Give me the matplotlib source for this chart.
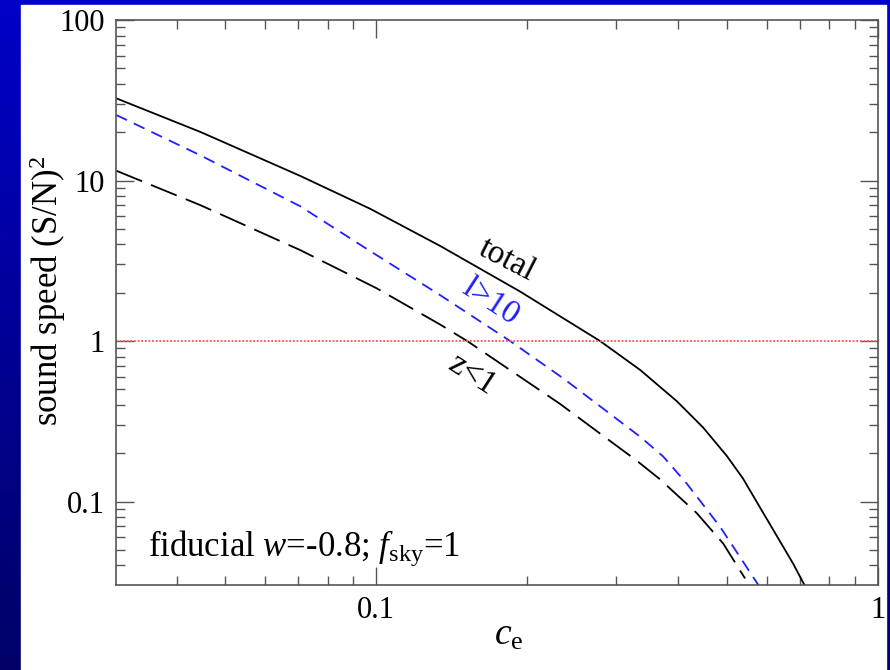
import numpy as np
import matplotlib
matplotlib.use("Agg")
import matplotlib.pyplot as plt
from matplotlib.patches import Rectangle
from matplotlib.ticker import LogLocator, NullFormatter, FixedLocator, FixedFormatter

matplotlib.rcParams['font.family'] = 'Liberation Serif'
matplotlib.rcParams['mathtext.fontset'] = 'custom'
matplotlib.rcParams['mathtext.rm'] = 'Liberation Serif'
matplotlib.rcParams['mathtext.it'] = 'Liberation Serif:italic'
matplotlib.rcParams['lines.scale_dashes'] = False

# ── data ──────────────────────────────────────────────────────
ce_total = [0.03034, 0.0446, 0.07058, 0.09729, 0.13408, 0.19353, 0.27934, 0.33574, 0.39774,
            0.44808, 0.50026, 0.53838, 0.582, 0.67712, 0.7153]
sn_total = [32.51, 20.09, 10.68, 6.664, 3.913, 2.034, 1.00, 0.6605, 0.4205,
            0.2895, 0.1915, 0.1389, 0.09177, 0.04115, 0.02975]

ce_l10 = [0.03034, 0.0446, 0.07058, 0.09729, 0.13408, 0.18487, 0.23604, 0.33574, 0.37291,
          0.41583, 0.48445, 0.57747]
sn_l10 = [25.59, 14.36, 6.907, 3.632, 1.932, 1.00, 0.5846, 0.2533, 0.1912,
          0.1293, 0.06966, 0.03022]

ce_z1 = [0.03034, 0.0446, 0.07058, 0.10032, 0.13408, 0.15182, 0.23249, 0.33068, 0.36782,
         0.43535, 0.4918, 0.54331]
sn_z1 = [11.51, 7.027, 3.684, 2.127, 1.267, 1.00, 0.4056, 0.1795, 0.1375,
         0.08467, 0.05459, 0.03318]

xlim = (0.0303, 1.0)
ylim = (0.0302, 100)

# ── figure with blue slide background ────────────────────────
fig = plt.figure(figsize=(8.9, 6.7), dpi=100)
bg = fig.add_axes([0, 0, 1, 1], zorder=-10)
grad = np.linspace(0, 1, 256)[:, None]
cmap = matplotlib.colors.LinearSegmentedColormap.from_list("slide", ["#0000c8", "#000066"])
bg.imshow(grad, aspect='auto', cmap=cmap, extent=[0, 1, 0, 1], origin='upper')
bg.add_patch(Rectangle((21 / 890, 0), (886 - 21) / 890, 1 - 5 / 670, color='white', zorder=2))
bg.set_xlim(0, 1)
bg.set_ylim(0, 1)
bg.axis('off')

ax = fig.add_axes([116 / 890, 1 - 585 / 670, (878 - 116) / 890, (585 - 20) / 670])
ax.set_facecolor('none')

ax.plot(ce_total, sn_total, color='black', lw=1.3)
ax.plot(ce_l10, sn_l10, color='#2020ff', lw=1.3, linestyle=(0, (8.5, 5.5)))
ax.plot(ce_z1, sn_z1, color='black', lw=1.3, linestyle=(0, (20, 7)))
ax.axhline(1.0, color='#ff5a5a', lw=1.4, linestyle=(0, (1.3, 1.3)))

ax.set_xscale('log')
ax.set_yscale('log')
ax.set_xlim(*xlim)
ax.set_ylim(*ylim)

ax.xaxis.set_major_locator(FixedLocator([0.1, 1]))
ax.xaxis.set_major_formatter(FixedFormatter(['0.1', '1']))
ax.xaxis.set_minor_locator(LogLocator(base=10, subs=np.arange(2, 10)))
ax.xaxis.set_minor_formatter(NullFormatter())
ax.yaxis.set_major_locator(FixedLocator([0.1, 1, 10, 100]))
ax.yaxis.set_major_formatter(FixedFormatter(['0.1', '1', '10', '100']))
ax.yaxis.set_minor_locator(LogLocator(base=10, subs=np.arange(2, 10)))
ax.yaxis.set_minor_formatter(NullFormatter())

ax.tick_params(which='both', direction='in', top=True, right=True, color='#555555', width=1.0,
               labelsize=22, pad=8)
ax.tick_params(which='major', length=13)
ax.tick_params(which='minor', length=6.5)
for s in ax.spines.values():
    s.set_color('#555555')
    s.set_linewidth(1.2)

ax.set_xlabel(r'$c_{\rm e}$', fontsize=27)
ax.xaxis.set_label_coords(0.515, -0.058)
ax.set_ylabel(r'sound speed (S/N)$^2$', fontsize=25)
ax.yaxis.set_label_coords(-0.063, 0.52)

ax.text(0.1824, 3.20, 'total', fontsize=24, rotation=-27, ha='center', va='center')
ax.text(0.1687, 1.75, 'l>10', fontsize=24, color='#2020ff', rotation=-33, ha='center', va='center')
ax.text(0.1553, 0.614, 'z<1', fontsize=24, rotation=-33, ha='center', va='center')
ax.text(0.03514, 0.0457, r'fiducial $w$=-0.8; $f_{\rm sky}$=1', fontsize=25, ha='left', va='baseline')

plt.savefig("out.png", dpi=100)
plt.close()
